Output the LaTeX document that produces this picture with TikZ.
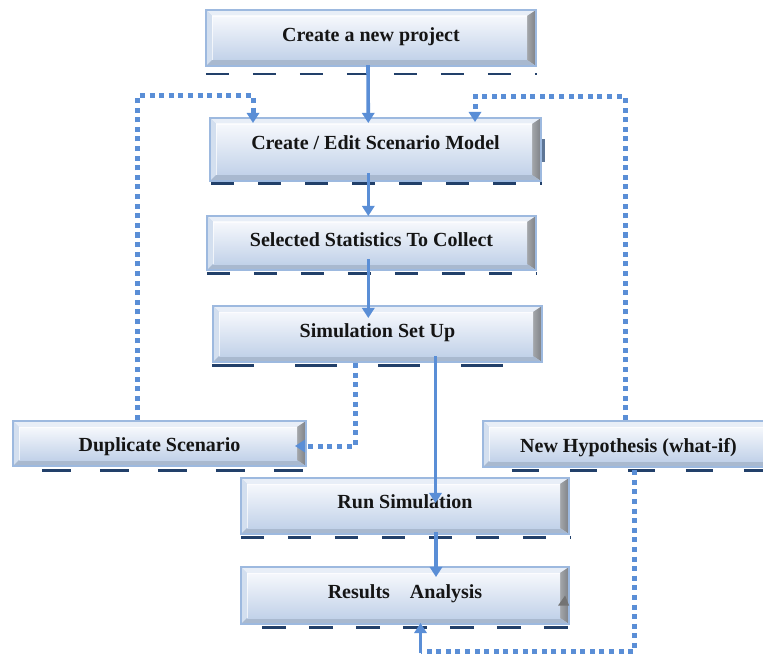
\documentclass[tikz,border=0pt]{standalone}
\usepackage{fontspec}
\setmainfont{Liberation Serif}
\usetikzlibrary{arrows.meta,calc}
\definecolor{frame}{HTML}{9DB9DF}
\definecolor{faceT}{HTML}{F6F8FC}
\definecolor{faceB}{HTML}{C2D2E9}
\definecolor{bvtop}{HTML}{E8EEF7}
\definecolor{bvleft}{HTML}{D3DFEF}
\definecolor{bvrightA}{HTML}{A3A6AA}
\definecolor{bvrightB}{HTML}{7E8186}
\definecolor{bvbot}{HTML}{A9B9CF}
\definecolor{lineblue}{HTML}{5A8ED6}
\definecolor{navy}{HTML}{22406A}
\definecolor{txt}{HTML}{151515}
\definecolor{artif}{HTML}{5E7696}
\tikzset{
  bevelbox/.style={rectangle, draw=frame, line width=2.2pt, fill=faceB, inner sep=0pt,
    text height=14pt, text depth=6.8pt, text=txt,
    font=\bfseries\fontsize{20}{24}\selectfont,
    path picture={
      \path (path picture bounding box.north west) coordinate (P1)
            (path picture bounding box.north east) coordinate (P2)
            (path picture bounding box.south east) coordinate (P3)
            (path picture bounding box.south west) coordinate (P4);
      \path ([xshift=6pt,yshift=-6pt]P1) coordinate (Q1)
            ([xshift=-9pt,yshift=-6pt]P2) coordinate (Q2)
            ([xshift=-9pt,yshift=6pt]P3) coordinate (Q3)
            ([xshift=6pt,yshift=6pt]P4) coordinate (Q4);
      \fill[bvtop] (P1) -- (P2) -- (Q2) -- (Q1) -- cycle;
      \fill[bvleft] (P1) -- (Q1) -- (Q4) -- (P4) -- cycle;
      \shade[left color=bvrightA, right color=bvrightB] (P2) -- (P3) -- (Q3) -- (Q2) -- cycle;
      \fill[bvbot] (P4) -- (Q4) -- (Q3) -- (P3) -- cycle;
      \shade[top color=faceT, bottom color=faceB] (Q1) rectangle (Q3);
      \draw[white, line width=0.6pt, opacity=0.7] (Q4) -- (Q1) -- (Q2);
    }},
  conn/.style={draw=lineblue, line width=3.6pt, -{Triangle[width=13pt,length=10pt,line width=0pt]}},
  dotconn/.style={draw=lineblue, line width=5pt, dash pattern=on 5pt off 4.6pt,
    -{Triangle[width=13pt,length=10pt,line width=0pt]}},
  dotplain/.style={draw=lineblue, line width=5pt, dash pattern=on 5pt off 4.6pt},
  undash/.style={draw=navy, line width=2.8pt}
}
\begin{document}
\begin{tikzpicture}[x=1pt,y=-1pt]
\useasboundingbox (0,0) rectangle (763,655);

% boxes
\node[bevelbox, minimum width=330pt, minimum height=56pt] (n1) at (371,38) {Create a new project};
\node[bevelbox, minimum width=331pt, minimum height=63pt] (n2) at (375.5,149.5) {\raisebox{4pt}{Create / Edit Scenario Model}};
\node[bevelbox, minimum width=329pt, minimum height=54pt] (n3) at (371.5,243) {Selected Statistics To Collect};
\node[bevelbox, minimum width=329pt, minimum height=56pt] (n4) at (377.5,334) {Simulation Set Up};
\node[bevelbox, minimum width=293pt, minimum height=45pt] (n5) at (159.5,443.5) {\raisebox{-4pt}{Duplicate Scenario}};
\node[bevelbox, minimum width=291pt, minimum height=46pt] (n6) at (628.5,444) {\raisebox{-4.5pt}{New Hypothesis (what-if)}};
\node[bevelbox, minimum width=328pt, minimum height=56pt] (n7) at (405,506) {\raisebox{1pt}{Run Simulation}};
\node[bevelbox, minimum width=328pt, minimum height=57pt] (n8) at (405,595.5) {\raisebox{1pt}{Results\quad Analysis}};

% small artefacts
\fill[artif] ($(n2.east)+(-0.5,-10.5)$) rectangle ($(n2.east)+(2.5,12.5)$);
\fill[gray!90!black] ($(n8.east)+(-12,10)$) -- ($(n8.east)+(-1,10)$) -- ($(n8.east)+(-5,0)$) -- cycle;

% dashed underlines
\draw[undash, dash pattern=on 23pt off 24pt] ($(n1.south west)+(1,7)$) -- ($(n1.south east)+(0,7)$);
\draw[undash, dash pattern=on 23pt off 24pt] ($(n2.south west)+(2.5,1.5)$) -- ($(n2.south east)+(0,1.5)$);
\draw[undash, dash pattern=on 23pt off 24pt] ($(n3.south west)+(1,2.5)$) -- ($(n3.south east)+(0,2.5)$);
\draw[undash, dash pattern=on 42pt off 41pt] ($(n4.south west)+(0.5,2)$) -- ($(n4.south east)+(0,2)$);
\draw[undash, dash pattern=on 29pt off 29pt] ($(n5.south west)+(30,3)$) -- ($(n5.south east)+(0,3)$);
\draw[undash, dash pattern=on 27pt off 31pt] ($(n6.south west)+(30,2)$) -- ($(n6.south east)+(0,2)$);
\draw[undash, dash pattern=on 23pt off 24pt] ($(n7.south west)+(1,2)$) -- ($(n7.south east)+(0,2)$);
\draw[undash, dash pattern=on 24pt off 23pt] ($(n8.south west)+(22,2.5)$) -- ($(n8.south east)+(0,2.5)$);

% solid connectors
\draw[conn] ($(n1.south)+(-3,-2)$) -- ($(n2.north)+(-7.2,6)$);
\draw[conn] ($(n2.south)+(-7.2,-9)$) -- ($(n3.north)+(-3.2,1)$);
\draw[conn] ($(n3.south)+(-3.2,-12)$) -- ($(n4.north)+(-9.2,13)$);
\draw[conn] ($(n4.south)+(58,-7)$) -- ($(n7.north)+(30.5,26)$);
\draw[conn] ($(n7.south)+(31,-3)$) -- ($(n8.north)+(31,11)$);

% dotted connectors
\draw[dotconn] ($(n4.south)+(-22.5,0)$) |- ($(n5.east)+(-12,2.5)$);
\draw[dotconn] ($(n5.north)+(-22,0)$) |- ($(n2.north)+(-122.5,-21)$) -- ($(n2.north)+(-122.5,6)$);
\draw[dotconn] ($(n6.north)+(-3.5,0)$) |- ($(n2.north)+(99.5,-20)$) -- ($(n2.north)+(99.5,5)$);
\coordinate (k8) at ($(n8.south)+(15.5,26)$);
\draw[dotplain] ($(n6.south)+(6,2)$) |- (k8);
\draw[conn] ([yshift=-2pt]k8) -- ($(n8.south)+(15.5,-2)$);
\end{tikzpicture}
\end{document}
